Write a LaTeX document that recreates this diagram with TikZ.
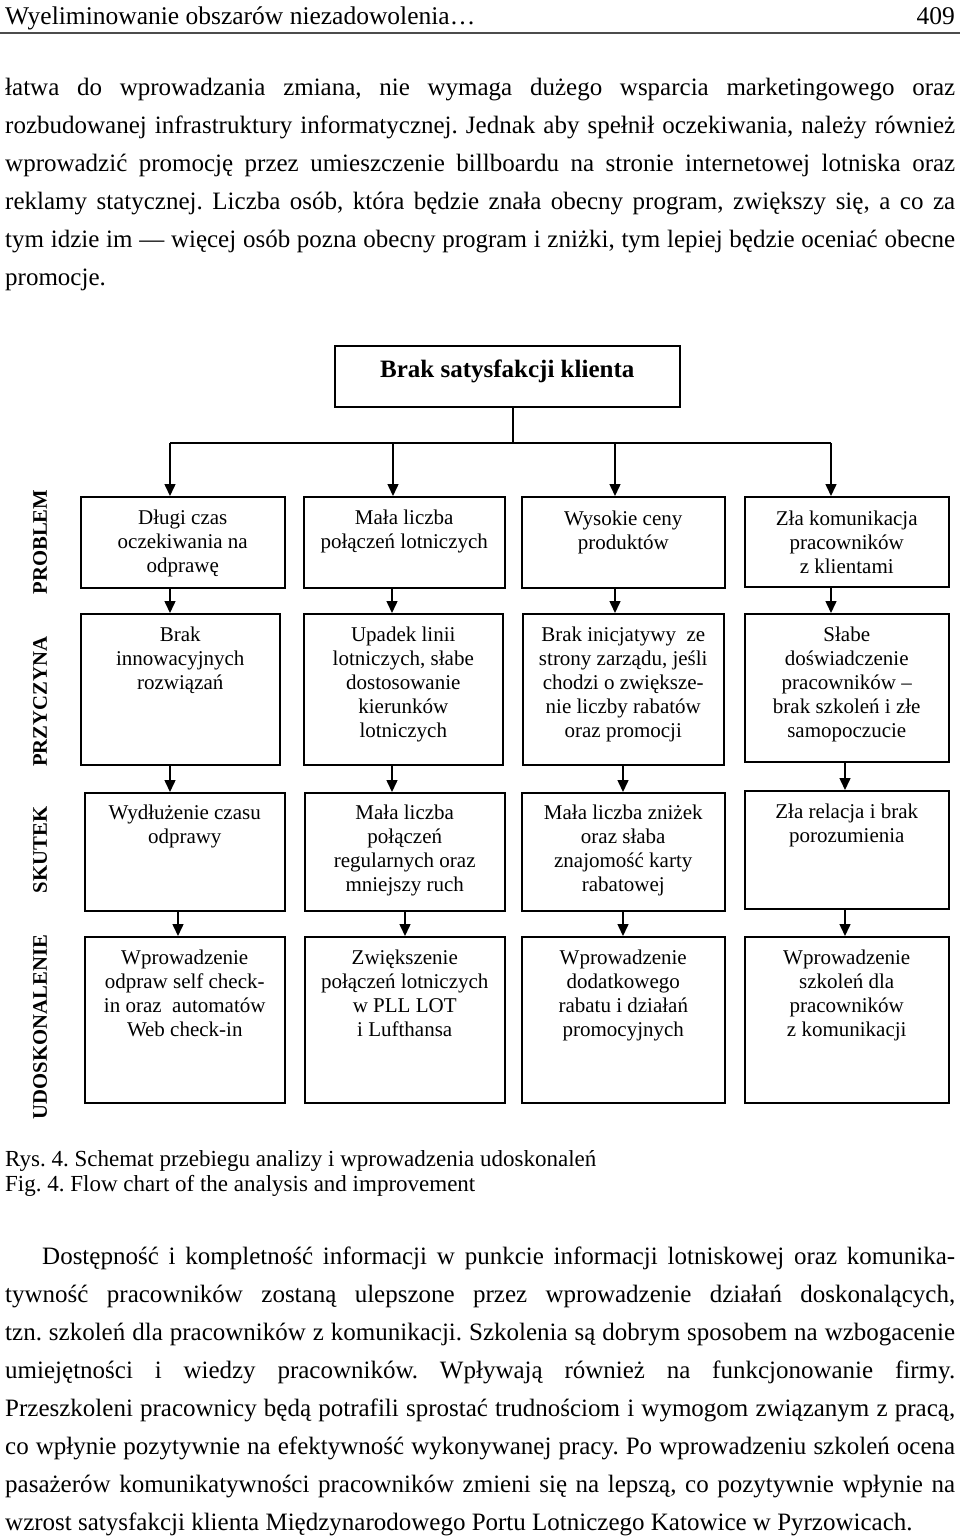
\documentclass[tikz,border=0pt]{standalone}
\usepackage{fontspec}
\setmainfont{Liberation Serif}
\usetikzlibrary{arrows.meta}
\frenchspacing
\begin{document}
\begin{tikzpicture}[x=1pt,y=-1pt,
  box/.style={draw, line width=1.5pt, inner sep=0pt, anchor=north west},
  btext/.style={font=\fontsize{21}{24}\selectfont, align=center, inner sep=0pt, anchor=north},
  lab/.style={font=\fontsize{20.7}{24}\selectfont\bfseries, rotate=90, inner sep=0pt, anchor=center},
  arr/.style={line width=1.5pt, -{Triangle[length=12pt,width=11pt]}},
  conn/.style={line width=1.5pt},
  body/.style={font=\fontsize{25}{28}\selectfont, anchor=base west, inner sep=0pt},
  captxt/.style={font=\fontsize{23}{26}\selectfont, anchor=base west, inner sep=0pt},
]
\fill[white] (0,0) rectangle (960,1537);
\useasboundingbox (0,0) rectangle (960,1537);

% header
\node[body, font=\fontsize{25.5}{28}\selectfont] (hd) at (5,24) {Wyeliminowanie obszarów niezadowolenia…};
\node[body, anchor=base east, font=\fontsize{25.5}{28}\selectfont] (pg) at (955,24) {409};
\draw[line width=1.5pt, black!70] (0,33) -- (960,33);

% paragraph 1
\node[body] (a1) at (5,95)  {\makebox[950pt][s]{łatwa do wprowadzania zmiana, nie wymaga dużego wsparcia marketingowego oraz}};
\node[body] (a2) at (5,133) {\makebox[950pt][s]{rozbudowanej infrastruktury informatycznej. Jednak aby spełnił oczekiwania, należy również}};
\node[body] (a3) at (5,171) {\makebox[950pt][s]{wprowadzić promocję przez umieszczenie billboardu na stronie internetowej lotniska oraz}};
\node[body] (a4) at (5,209) {\makebox[950pt][s]{reklamy statycznej. Liczba osób, która będzie znała obecny program, zwiększy się, a co za}};
\node[body] (a5) at (5,247) {\makebox[950pt][s]{tym idzie im — więcej osób pozna obecny program i zniżki, tym lepiej będzie oceniać obecne}};
\node[body] (a6) at (5,285) {promocje.};

% title
\node[box, minimum width=345pt, minimum height=61pt] (t) at (334,345) {};
\node[font=\fontsize{25}{28}\selectfont\bfseries, inner sep=0pt] (tt) at ([yshift=5pt]t.center) {Brak satysfakcji klienta};
\coordinate (j) at (513,443);
\coordinate (hl) at (170,443);
\coordinate (hr) at (831,443);
\draw[conn] (t.south -| j) -- (j);
\draw[conn] (hl) -- (hr);

% row labels
\node[lab] (l1) at (40,542) {PROBLEM};
\node[lab] (l2) at (40,702) {PRZYCZYNA};
\node[lab] (l3) at (40,850) {SKUTEK};
\node[lab] (l4) at (40,1027) {UDOSKONALENIE};

% row 1
\node[box, minimum width=204pt, minimum height=91pt] (p1) at (80,496) {};
\node[box, minimum width=201pt, minimum height=91pt] (p2) at (303,496) {};
\node[box, minimum width=203pt, minimum height=91pt] (p3) at (521,496) {};
\node[box, minimum width=204pt, minimum height=90pt] (p4) at (744,496) {};
% row 2
\node[box, minimum width=199pt, minimum height=151pt] (c1) at (80,613) {};
\node[box, minimum width=199pt, minimum height=151pt] (c2) at (303,613) {};
\node[box, minimum width=201pt, minimum height=151pt] (c3) at (522,613) {};
\node[box, minimum width=204pt, minimum height=148pt] (c4) at (744,613) {};
% row 3
\node[box, minimum width=200pt, minimum height=118pt] (s1) at (84,792) {};
\node[box, minimum width=200pt, minimum height=118pt] (s2) at (304,792) {};
\node[box, minimum width=203pt, minimum height=118pt] (s3) at (521,792) {};
\node[box, minimum width=204pt, minimum height=118pt] (s4) at (744,790) {};
% row 4
\node[box, minimum width=200pt, minimum height=166pt] (u1) at (84,936) {};
\node[box, minimum width=200pt, minimum height=166pt] (u2) at (304,936) {};
\node[box, minimum width=203pt, minimum height=166pt] (u3) at (521,936) {};
\node[box, minimum width=204pt, minimum height=166pt] (u4) at (744,936) {};

% texts
\node[btext] (tp1) at ([yshift=-14pt]p1.north) {Długi czas\\oczekiwania na\\odprawę};
\node[btext] (tp2) at ([yshift=-14pt]p2.north) {Mała liczba\\połączeń lotniczych};
\node[btext] (tp3) at ([yshift=-15pt]p3.north) {Wysokie ceny\\produktów};
\node[btext] (tp4) at ([yshift=-15pt]p4.north) {Zła komunikacja\\pracowników\\z klientami};

\node[btext] (tc1) at ([yshift=-14pt]c1.north) {Brak\\innowacyjnych\\rozwiązań};
\node[btext] (tc2) at ([yshift=-14pt]c2.north) {Upadek linii\\lotniczych, słabe\\dostosowanie\\kierunków\\lotniczych};
\node[btext] (tc3) at ([yshift=-14pt]c3.north) {Brak inicjatywy\ \ ze\\strony zarządu, jeśli\\chodzi o zwiększe-\\nie liczby rabatów\\oraz promocji};
\node[btext] (tc4) at ([yshift=-14pt]c4.north) {Słabe\\doświadczenie\\pracowników –\\brak szkoleń i złe\\samopoczucie};

\node[btext] (ts1) at ([yshift=-13pt]s1.north) {Wydłużenie czasu\\odprawy};
\node[btext] (ts2) at ([yshift=-13pt]s2.north) {Mała liczba\\połączeń\\regularnych oraz\\mniejszy ruch};
\node[btext] (ts3) at ([yshift=-13pt]s3.north) {Mała liczba zniżek\\oraz słaba\\znajomość karty\\rabatowej};
\node[btext] (ts4) at ([yshift=-14pt]s4.north) {Zła relacja i brak\\porozumienia};

\node[btext] (tu1) at ([yshift=-14pt]u1.north) {Wprowadzenie\\odpraw self check-\\in oraz\ \ automatów\\Web check-in};
\node[btext] (tu2) at ([yshift=-14pt]u2.north) {Zwiększenie\\połączeń lotniczych\\w PLL LOT\\i Lufthansa};
\node[btext] (tu3) at ([yshift=-14pt]u3.north) {Wprowadzenie\\dodatkowego\\rabatu i działań\\promocyjnych};
\node[btext] (tu4) at ([yshift=-14pt]u4.north) {Wprowadzenie\\szkoleń dla\\pracowników\\z komunikacji};

% arrows from the bar
\draw[arr] (hl) -- (hl |- p1.north);
\draw[arr] (393,443) -- (p2.north -| 393,0);
\draw[arr] (615,443) -- (p3.north -| 615,0);
\draw[arr] (hr) -- (hr |- p4.north);
% row 1 -> row 2
\draw[arr] (p1.south -| 170,0) -- (c1.north -| 170,0);
\draw[arr] (p2.south -| 392,0) -- (c2.north -| 392,0);
\draw[arr] (p3.south -| 615,0) -- (c3.north -| 615,0);
\draw[arr] (p4.south -| 831,0) -- (c4.north -| 831,0);
% row 2 -> row 3
\draw[arr] (c1.south -| 170,0) -- (s1.north -| 170,0);
\draw[arr] (c2.south -| 392,0) -- (s2.north -| 392,0);
\draw[arr] (c3.south -| 623,0) -- (s3.north -| 623,0);
\draw[arr] (c4.south -| 845,0) -- (s4.north -| 845,0);
% row 3 -> row 4
\draw[arr] (s1.south -| 178,0) -- (u1.north -| 178,0);
\draw[arr] (s2.south -| 405,0) -- (u2.north -| 405,0);
\draw[arr] (s3.south -| 623,0) -- (u3.north -| 623,0);
\draw[arr] (s4.south -| 845,0) -- (u4.north -| 845,0);

% caption
\node[captxt] (r1) at (5,1166) {Rys. 4. Schemat przebiegu analizy i wprowadzenia udoskonaleń};
\node[captxt] (r2) at (5,1191) {Fig. 4. Flow chart of the analysis and improvement};

% paragraph 2
\node[body] (b1) at (42,1264) {\makebox[913pt][s]{Dostępność i kompletność informacji w punkcie informacji lotniskowej oraz komunika-}};
\node[body] (b2) at (5,1302) {\makebox[950pt][s]{tywność pracowników zostaną ulepszone przez wprowadzenie działań doskonalących,}};
\node[body] (b3) at (5,1340) {\makebox[950pt][s]{tzn. szkoleń dla pracowników z komunikacji. Szkolenia są dobrym sposobem na wzbogacenie}};
\node[body] (b4) at (5,1378) {\makebox[950pt][s]{umiejętności i wiedzy pracowników. Wpływają również na funkcjonowanie firmy.}};
\node[body] (b5) at (5,1416) {\makebox[950pt][s]{Przeszkoleni pracownicy będą potrafili sprostać trudnościom i wymogom związanym z pracą,}};
\node[body] (b6) at (5,1454) {\makebox[950pt][s]{co wpłynie pozytywnie na efektywność wykonywanej pracy. Po wprowadzeniu szkoleń ocena}};
\node[body] (b7) at (5,1492) {\makebox[950pt][s]{pasażerów komunikatywności pracowników zmieni się na lepszą, co pozytywnie wpłynie na}};
\node[body] (b8) at (5,1530) {wzrost satysfakcji klienta Międzynarodowego Portu Lotniczego Katowice w Pyrzowicach.};
\end{tikzpicture}
\end{document}
